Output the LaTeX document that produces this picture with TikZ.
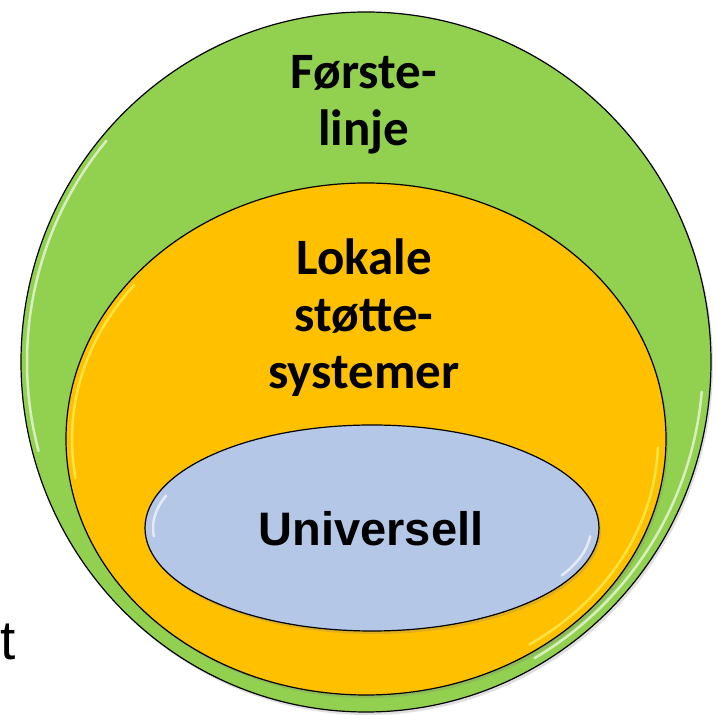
\documentclass[tikz,border=0pt]{standalone}
\usepackage{fontspec}
\newfontfamily\carlito{Carlito}
\newfontfamily\arialfont{Liberation Sans}
\usetikzlibrary{positioning,shapes.geometric,shadows}

\definecolor{linjegreen}{HTML}{92D050}
\definecolor{lokalorange}{HTML}{FFC000}
\definecolor{univblue}{HTML}{B4C7E7}

\tikzset{
    ring/.style={ellipse,draw=black,line width=1.2pt,inner sep=0pt,
        drop shadow={opacity=0.25,shadow xshift=2pt,shadow yshift=-3pt}},
    ringtext/.style={font=\carlito\bfseries\fontsize{51}{57}\selectfont,align=center},
    glint/.style={white,line width=2.5pt,opacity=0.65,line cap=round}
}

\begin{document}
\begin{tikzpicture}[x=1pt,y=1pt]
    \useasboundingbox (0,0) rectangle (716,715);
    \coordinate (G) at (366,353);
    \coordinate (O) at (366,276);
    \coordinate (B) at (372,187);

    \node[ring,fill=linjegreen,minimum width=690pt,minimum height=700pt] (forste) at (G) {};
    \node[ring,fill=lokalorange,minimum width=600pt,minimum height=512pt] (lokale) at (O) {};
    \node[ring,fill=univblue,minimum width=454pt,minimum height=206pt] (univ) at (B) {};

    % bevel highlights
    \draw[glint] (G) ++({339*cos(140)},{344*sin(140)}) arc[start angle=140,end angle=195,x radius=339,y radius=344];
    \draw[glint] (G) ++({337*cos(-60)},{342*sin(-60)}) arc[start angle=-60,end angle=-5,x radius=337,y radius=342];
    \draw[glint,white!40!yellow] (O) ++({294*cos(142)},{250*sin(142)}) arc[start angle=142,end angle=189,x radius=294,y radius=250];
    \draw[glint,white!40!yellow] (O) ++({292*cos(-56)},{248*sin(-56)}) arc[start angle=-56,end angle=-2,x radius=292,y radius=248];
    \draw[glint] (B) ++({219*cos(160)},{95*sin(160)}) arc[start angle=160,end angle=185,x radius=219,y radius=95];
    \draw[glint] (B) ++({219*cos(-30)},{95*sin(-30)}) arc[start angle=-30,end angle=-5,x radius=219,y radius=95];

    \node[ringtext] (forstetxt) at (364,610) {Første-\\linje};
    \node[ringtext] (lokaletxt) at (364,397) {Lokale\\støtte-\\systemer};
    \node[font=\arialfont\bfseries\fontsize{47}{52}\selectfont] (univtxt) at (371,186) {Universell};

    \node[anchor=base east,inner sep=0pt,font=\arialfont\fontsize{55}{60}\selectfont] (stub) at (16,55) {t};
\end{tikzpicture}
\end{document}
